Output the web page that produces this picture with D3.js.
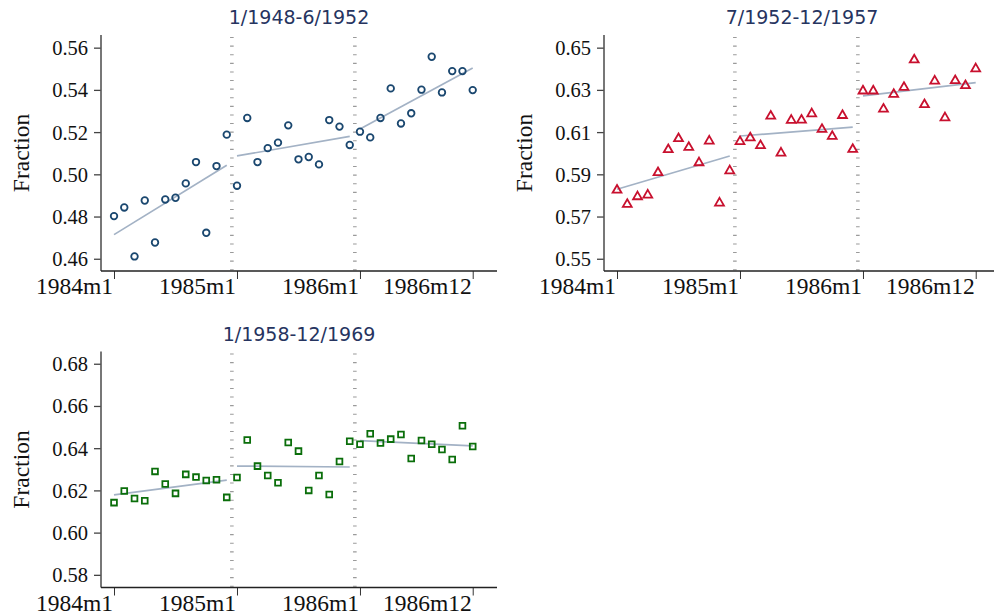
<!DOCTYPE html>
<html><head><meta charset="utf-8">
<script src="https://cdn.jsdelivr.net/npm/d3@7"></script>
<style>body{margin:0;background:#fff} svg{display:block}</style>
</head><body>
<script>
const titles = ["1/1948-6/1952", "7/1952-12/1957", "1/1958-12/1969"];
const months = d3.range(36);
const fraction1 = [0.4802,0.4843,0.4611,0.4876,0.4677,0.4881,0.4889,0.4957,0.5058,0.4723,0.5039,0.5188,
                   0.4946,0.5267,0.5058,0.5124,0.5150,0.5232,0.5071,0.5082,0.5047,0.5257,0.5226,0.5139,
                   0.5202,0.5175,0.5267,0.5407,0.5241,0.5289,0.5401,0.5557,0.5388,0.5489,0.5489,0.5399];
const fraction2 = [0.5825,0.5758,0.5794,0.5802,0.5908,0.6017,0.6069,0.6028,0.5955,0.6058,0.5764,0.5917,
                   0.6055,0.6073,0.6036,0.6176,0.6001,0.6156,0.6157,0.6187,0.6113,0.6080,0.6179,0.6018,
                   0.6295,0.6295,0.6209,0.6279,0.6312,0.6442,0.6230,0.6342,0.6168,0.6344,0.6320,0.6400];
const fraction3 = [0.6142,0.6197,0.6162,0.6151,0.6290,0.6230,0.6186,0.6276,0.6263,0.6247,0.6250,0.6167,
                   0.6261,0.6439,0.6315,0.6271,0.6236,0.6427,0.6386,0.6200,0.6271,0.6181,0.6337,0.6433,
                   0.6419,0.6468,0.6425,0.6443,0.6465,0.6351,0.6436,0.6419,0.6394,0.6346,0.6506,0.6408];
const yTicks1 = [0.46, 0.48, 0.50, 0.52, 0.54, 0.56];
const yTicks2 = [0.55, 0.57, 0.59, 0.61, 0.63, 0.65];
const yTicks3 = [0.58, 0.60, 0.62, 0.64, 0.66, 0.68];
const yDomain1 = [0.4542, 0.566];
const yDomain2 = [0.5442, 0.656];
const yDomain3 = [0.574, 0.6858];
const xTickMonths = [0, 12, 24, 35];
const xTickLabels = ["1984m1", "1985m1", "1986m1", "1986m12"];
const breakMonths = [11.5, 23.5];
const segments = [[0, 11], [12, 23], [24, 35]];

const panels = [
  {title: titles[0], values: fraction1, ticks: yTicks1, domain: yDomain1, left: 101, top: 35, marker: "circle", color: "#1a476f"},
  {title: titles[1], values: fraction2, ticks: yTicks2, domain: yDomain2, left: 604, top: 35, marker: "triangle", color: "#c8102e"},
  {title: titles[2], values: fraction3, ticks: yTicks3, domain: yDomain3, left: 101, top: 351.5, marker: "square", color: "#0a6e0a"}
];

const W = 994, H = 615, PW = 396, PH = 236;
const serif = "'Liberation Serif', 'Times New Roman', serif";
const svg = d3.select("body").append("svg").attr("width", W).attr("height", H);

function ols(xs, ys) {
  const mx = d3.mean(xs), my = d3.mean(ys);
  let sxy = 0, sxx = 0;
  xs.forEach((x, i) => { sxy += (x - mx) * (ys[i] - my); sxx += (x - mx) * (x - mx); });
  const b = sxy / sxx;
  return x => my + b * (x - mx);
}

panels.forEach(p => {
  const g = svg.append("g").attr("transform", `translate(${p.left},${p.top})`);
  const x = d3.scaleLinear().domain([-1.27, 37.37]).range([0, PW]);
  const y = d3.scaleLinear().domain(p.domain).range([PH, 0]);

  // title
  g.append("text").attr("x", PW / 2).attr("y", -11).attr("text-anchor", "middle")
    .style("font-family", "'DejaVu Sans', sans-serif").style("font-size", "19px").attr("fill", "#26345f")
    .text(p.title);

  // y label
  g.append("text").attr("transform", `translate(-80,${PH / 2}) rotate(-90)`)
    .attr("text-anchor", "middle").attr("dy", "0.33em")
    .style("font-family", serif).style("font-size", "23.5px").attr("fill", "#111")
    .text("Fraction");

  // break lines
  g.selectAll("line.brk").data(breakMonths).join("line").attr("class", "brk")
    .attr("x1", d => x(d)).attr("x2", d => x(d)).attr("y1", 2).attr("y2", PH)
    .attr("stroke", "#9a9a9a").attr("stroke-width", 3.6).attr("stroke-dasharray", "1.1 7.5");

  // y axis
  const ya = g.append("g").call(d3.axisLeft(y).tickValues(p.ticks).tickFormat(d3.format(".2f")).tickSize(7).tickPadding(6));
  ya.select(".domain").remove();
  ya.selectAll(".tick line").attr("stroke", "#444").attr("stroke-width", 1.3);
  ya.selectAll(".tick text").attr("dy", "0.34em").style("font-family", serif).style("font-size", "20.5px").attr("fill", "#111");
  g.append("line").attr("x1", 0).attr("x2", 0).attr("y1", 0).attr("y2", PH).attr("stroke", "#555").attr("stroke-width", 1.6);

  // x axis
  const xa = g.append("g").attr("transform", `translate(0,${PH})`)
    .call(d3.axisBottom(x).tickValues(xTickMonths).tickFormat((d, i) => xTickLabels[i]).tickSize(8).tickPadding(0));
  xa.select(".domain").remove();
  xa.selectAll(".tick line").attr("stroke", "#333").attr("stroke-width", 1);
  xa.selectAll(".tick text").attr("text-anchor", "end").attr("dx", "-1.5").attr("y", 6.5).attr("dy", "0.71em")
    .style("font-family", serif).style("font-size", "23.5px").attr("fill", "#111");
  g.append("line").attr("x1", 0).attr("x2", PW).attr("y1", PH).attr("y2", PH).attr("stroke", "#222").attr("stroke-width", 1.6);

  // fit lines
  segments.forEach(([a, b]) => {
    const xs = months.slice(a, b + 1), ys = p.values.slice(a, b + 1);
    const f = ols(xs, ys);
    g.append("line").attr("x1", x(a)).attr("x2", x(b)).attr("y1", y(f(a))).attr("y2", y(f(b)))
      .attr("stroke", "#a3b2c5").attr("stroke-width", 1.7);
  });

  // markers
  const sym = p.marker === "circle" ? d3.symbol(d3.symbolCircle, 34)
            : p.marker === "triangle" ? d3.symbol(d3.symbolTriangle, 34)
            : d3.symbol(d3.symbolSquare, 33);
  g.selectAll("path.pt").data(p.values).join("path").attr("class", "pt")
    .attr("transform", (d, i) => `translate(${x(months[i])},${y(d)})`)
    .attr("d", sym).attr("fill", "none").attr("stroke", p.color).attr("stroke-width", 1.8);
});
</script>
</body></html>
